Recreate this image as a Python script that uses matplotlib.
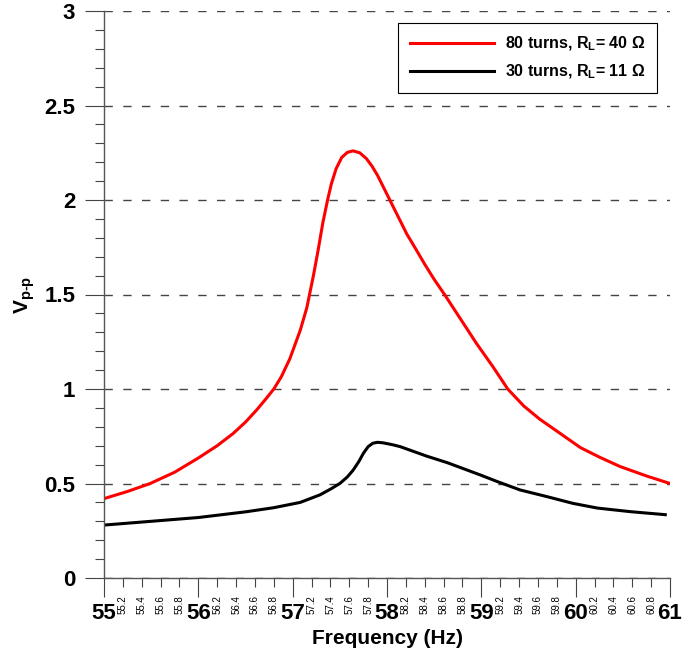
import numpy as np
import matplotlib
matplotlib.use('Agg')
import matplotlib.pyplot as plt
from matplotlib.ticker import MultipleLocator, FuncFormatter

plt.rcParams['font.family'] = ['Liberation Sans', 'DejaVu Sans']
plt.rcParams['mathtext.fontset'] = 'custom'
plt.rcParams['mathtext.rm'] = 'Liberation Sans:bold'
plt.rcParams['mathtext.it'] = 'Liberation Sans:bold'
plt.rcParams['mathtext.bf'] = 'Liberation Sans:bold'

# Dados: 80 espiras, RL = 40 ohm
freq_80 = [55.00, 55.25, 55.49, 55.75, 56.00, 56.20, 56.37, 56.50, 56.62, 56.72,
           56.80, 56.88, 56.97, 57.08, 57.15, 57.22, 57.27, 57.32, 57.37, 57.41,
           57.46, 57.52, 57.58, 57.64, 57.71, 57.78, 57.84, 57.90, 57.96, 58.03,
           58.12, 58.21, 58.30, 58.40, 58.50, 58.61, 58.78, 58.95, 59.12, 59.28,
           59.45, 59.62, 59.85, 60.05, 60.25, 60.47, 60.75, 61.00]
vpp_80 = [0.420, 0.458, 0.500, 0.560, 0.635, 0.700, 0.765, 0.825, 0.890, 0.950,
          1.000, 1.065, 1.160, 1.310, 1.430, 1.600, 1.735, 1.880, 2.000, 2.085,
          2.165, 2.225, 2.252, 2.260, 2.250, 2.220, 2.180, 2.130, 2.070, 2.000,
          1.910, 1.820, 1.745, 1.660, 1.580, 1.500, 1.370, 1.240, 1.120, 1.000,
          0.910, 0.840, 0.760, 0.690, 0.640, 0.590, 0.540, 0.500]

# 30 espiras, RL = 11 ohm
freq_30 = [55.00, 55.50, 56.00, 56.50, 56.80, 57.08, 57.29, 57.40, 57.50, 57.58,
           57.64, 57.70, 57.75, 57.80, 57.85, 57.90, 57.96, 58.06, 58.14, 58.28,
           58.42, 58.64, 58.99, 59.17, 59.41, 59.70, 59.97, 60.23, 60.58, 60.95]
vpp_30 = [0.280, 0.300, 0.320, 0.350, 0.372, 0.400, 0.440, 0.470, 0.500, 0.535,
          0.570, 0.615, 0.660, 0.695, 0.713, 0.718, 0.715, 0.705, 0.695, 0.670,
          0.645, 0.610, 0.545, 0.510, 0.466, 0.430, 0.395, 0.370, 0.351, 0.335]

labels = [r'80 turns, R$_{\text{L}}$= 40 Ω', r'30 turns, R$_{\text{L}}$= 11 Ω']

fig = plt.figure(figsize=(6.83, 6.61), dpi=100)
ax = fig.add_axes([104 / 683, 1 - 578 / 661, 566 / 683, 567 / 661])

ax.plot(freq_80, vpp_80, color='red', lw=2.2, label=labels[0])
ax.plot(freq_30, vpp_30, color='black', lw=2.2, label=labels[1])

ax.set_xlim(55, 61)
ax.set_ylim(0, 3)

for s in ['top', 'right']:
    ax.spines[s].set_visible(False)
for s in ['left', 'bottom']:
    ax.spines[s].set_color('#555555')
    ax.spines[s].set_linewidth(1)

ax.xaxis.set_major_locator(MultipleLocator(1))
ax.xaxis.set_minor_locator(MultipleLocator(0.2))
ax.xaxis.set_major_formatter(FuncFormatter(lambda v, p: f'{v:g}'))
ax.xaxis.set_minor_formatter(FuncFormatter(lambda v, p: f'{v:.1f}'))
ax.yaxis.set_major_locator(MultipleLocator(0.5))
ax.yaxis.set_minor_locator(MultipleLocator(0.1))
ax.yaxis.set_major_formatter(FuncFormatter(lambda v, p: f'{v:g}'))

ax.tick_params(axis='both', which='major', length=13.7, width=0.8, color='#444444',
               labelsize=16)
ax.tick_params(axis='both', which='minor', length=6.5, width=0.8, color='#444444')
ax.tick_params(axis='x', which='major', pad=4)
ax.tick_params(axis='y', which='major', pad=7)
ax.tick_params(axis='x', which='minor', labelsize=7, pad=6, labelrotation=90)
for lb in ax.get_xticklabels() + ax.get_yticklabels():
    lb.set_fontweight('bold')
for lb in ax.get_xticklabels(minor=True):
    lb.set_verticalalignment('top')

ax.yaxis.grid(True, which='major', color='#444444', lw=1.0, linestyle=(0, (6, 7.5)))
ax.set_axisbelow(True)

ax.set_xlabel('Frequency (Hz)', fontsize=15, fontweight='bold', labelpad=4)
ax.set_ylabel(r'V$_{\text{p-p}}$', fontsize=15, fontweight='bold', labelpad=5)

leg = ax.legend(loc='upper right', bbox_to_anchor=(657 / 683, 1 - 22.7 / 661),
                bbox_transform=fig.transFigure, borderaxespad=0,
                prop={'weight': 'bold', 'size': 11.5}, fancybox=False,
                framealpha=1, edgecolor='black', handlelength=5.3,
                handletextpad=0.65, labelspacing=0.6, borderpad=0.75)
leg.get_frame().set_linewidth(0.8)

plt.savefig('out.png', dpi=100)
